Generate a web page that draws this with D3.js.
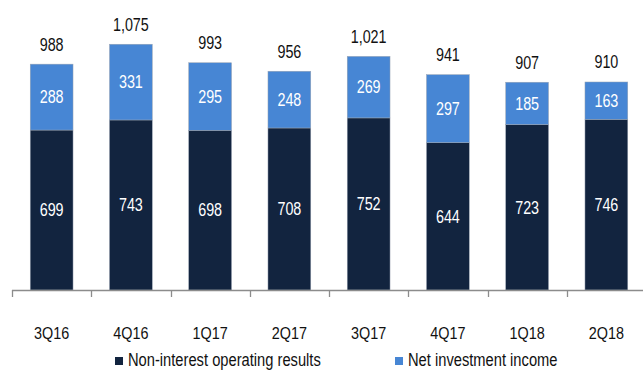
<!DOCTYPE html>
<html>
<head>
<meta charset="utf-8">
<script src="https://cdn.jsdelivr.net/npm/d3@7"></script>
<style>
  html, body { margin: 0; padding: 0; background: #fff; }
  svg { display: block; }
</style>
</head>
<body>
<svg id="chart" width="643" height="370"></svg>
<script>
// Quarterly earnings split: operating results vs. investment income
const quarters = ["3Q16", "4Q16", "1Q17", "2Q17", "3Q17", "4Q17", "1Q18", "2Q18"];
const operatingResults = [699, 743, 698, 708, 752, 644, 723, 746];
const investmentIncome = [288, 331, 295, 248, 269, 297, 185, 163];
const totals = [988, 1075, 993, 956, 1021, 941, 907, 910];
const seriesNames = ["Non-interest operating results", "Net investment income"];
const seriesColors = ["#12243f", "#4786d4"];

const svg = d3.select("#chart");
const baseY = 290;
const font = "'Liberation Sans', Arial, sans-serif";
const fmt = d3.format(",");

const slots = d3.scaleBand().domain(quarters).range([12, 646]).padding(0);
const x = d3.scaleBand().domain(quarters).range([12, 646])
  .paddingInner(0.46).paddingOuter(0.23);
const y = d3.scaleLinear().domain([0, 1075]).range([baseY, 44]);

// Text drawn with a horizontal squeeze (condensed look)
function squeezed(sel, sx) {
  return sel
    .attr("transform", d => `translate(${d.tx},${d.ty}) scale(${sx},1)`)
    .attr("x", 0).attr("y", 0);
}

const rows = quarters.map((q, i) => ({
  q, total: totals[i],
  parts: [
    { key: 0, q, v0: 0, v1: operatingResults[i], v: operatingResults[i] },
    { key: 1, q, v0: operatingResults[i], v1: operatingResults[i] + investmentIncome[i], v: investmentIncome[i] }
  ]
}));

const bar = svg.append("g").selectAll("g.bar").data(rows).join("g").attr("class", "bar");

bar.selectAll("rect").data(d => d.parts).join("rect")
  .attr("x", d => x(d.q))
  .attr("width", x.bandwidth())
  .attr("y", d => y(d.v1))
  .attr("height", d => y(d.v0) - y(d.v1))
  .attr("fill", d => seriesColors[d.key])
  .attr("stroke", "#9aa4b2")
  .attr("stroke-width", 0.5);

bar.selectAll("text.inner")
  .data(d => d.parts.map(p => ({ ...p, tx: x(p.q) + x.bandwidth() / 2, ty: (y(p.v0) + y(p.v1)) / 2 })))
  .join("text")
  .attr("class", "inner")
  .call(squeezed, 0.82)
  .attr("dy", "0.36em")
  .attr("text-anchor", "middle")
  .attr("fill", "#fff")
  .style("font-family", font)
  .style("font-size", "17.5px")
  .text(d => fmt(d.v));

bar.selectAll("text.total")
  .data(d => [{ v: d.total, tx: x(d.q) + x.bandwidth() / 2, ty: y(d.parts[1].v1) - 13.5 }])
  .join("text")
  .attr("class", "total")
  .call(squeezed, 0.82)
  .attr("text-anchor", "middle")
  .attr("fill", "#111")
  .style("font-family", font)
  .style("font-size", "17.5px")
  .text(d => fmt(d.v));

// Category axis with ticks at slot boundaries
const axis = svg.append("g");
axis.append("line")
  .attr("x1", slots.range()[0]).attr("x2", 643)
  .attr("y1", baseY + 0.5).attr("y2", baseY + 0.5)
  .attr("stroke", "#8c8c8c").attr("stroke-width", 1.3);
axis.selectAll("line.tick").data(quarters).join("line")
  .attr("class", "tick")
  .attr("x1", d => Math.round(slots(d)) + 0.5).attr("x2", d => Math.round(slots(d)) + 0.5)
  .attr("y1", baseY).attr("y2", baseY + 7)
  .attr("stroke", "#8c8c8c").attr("stroke-width", 1.3);
axis.selectAll("text")
  .data(quarters.map(q => ({ q, tx: x(q) + x.bandwidth() / 2, ty: 339 })))
  .join("text")
  .call(squeezed, 0.9)
  .attr("text-anchor", "middle")
  .attr("fill", "#111")
  .style("font-family", font)
  .style("font-size", "16px")
  .text(d => d.q);

// Legend
const legendX = [115, 395];
const lg = svg.selectAll("g.legend").data(seriesNames).join("g").attr("class", "legend")
  .attr("transform", (d, i) => `translate(${legendX[i]},357)`);
lg.append("rect").attr("width", 8).attr("height", 8)
  .attr("fill", (d, i) => seriesColors[i]);
lg.append("text")
  .datum(d => ({ name: d, tx: 13, ty: 9 }))
  .call(squeezed, 0.84)
  .attr("fill", "#111")
  .style("font-family", font)
  .style("font-size", "17.5px")
  .text(d => d.name);
</script>
</body>
</html>
